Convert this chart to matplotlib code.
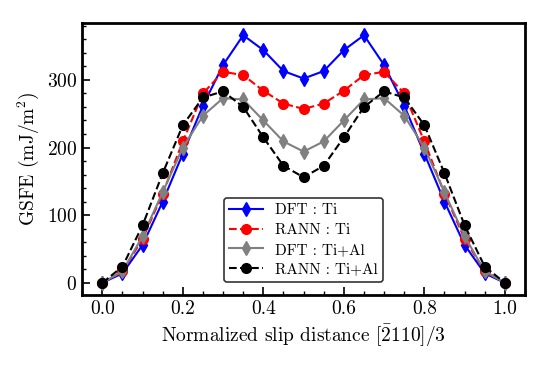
import numpy as np
import matplotlib
matplotlib.use("Agg")
import matplotlib.pyplot as plt
from matplotlib.ticker import MultipleLocator

plt.rcParams['font.family'] = 'cmr10'
plt.rcParams['mathtext.fontset'] = 'cm'
plt.rcParams['axes.unicode_minus'] = False
plt.rcParams['axes.formatter.use_mathtext'] = True

x = np.round(np.arange(0, 1.0001, 0.05), 2)

# half curves (0 -> 0.5), mirrored for the rest
dft_ti_half = [0, 14, 56, 120, 191, 262, 322, 366, 344, 313, 302]
rann_ti_half = [0, 17, 65, 132, 209, 280, 312, 307, 284, 265, 257]
dft_tial_half = [0, 17, 69, 134, 200, 247, 273, 271, 240, 209, 194]
rann_tial_half = [0, 24, 85, 162, 233, 274, 283, 260, 215, 173, 156]

def full(h):
    return h + h[-2::-1]

dft_ti = full(dft_ti_half)
rann_ti = full(rann_ti_half)
dft_tial = full(dft_tial_half)
rann_tial = full(rann_tial_half)

fig = plt.figure(figsize=(5.48, 3.66), dpi=100)
ax = fig.add_axes([0.150, 0.194, 0.808, 0.743])

ax.plot(x, dft_ti, '-', color='blue', marker='d', ms=7.5, lw=1.5, label='DFT : Ti')
ax.plot(x, rann_ti, '--', color='red', marker='o', ms=7, lw=1.5, label='RANN : Ti')
ax.plot(x, dft_tial, '-', color='gray', marker='d', ms=7.5, lw=1.5, label='DFT : Ti+Al')
ax.plot(x, rann_tial, '--', color='black', marker='o', ms=7, lw=1.5, label='RANN : Ti+Al')

ax.set_xlim(-0.05, 1.05)
ax.set_ylim(-18, 384)
ax.xaxis.set_major_locator(MultipleLocator(0.2))
ax.xaxis.set_minor_locator(MultipleLocator(0.05))
ax.yaxis.set_major_locator(MultipleLocator(100))
ax.yaxis.set_minor_locator(MultipleLocator(20))
ax.xaxis.set_major_formatter(matplotlib.ticker.FormatStrFormatter('%.1f'))
ax.tick_params(which='both', direction='in', top=False, right=False, labelsize=14)
ax.tick_params(which='major', length=6, width=1.2)
ax.tick_params(which='minor', length=3, width=1)
for s in ax.spines.values():
    s.set_linewidth(2)

ax.set_xlabel(r'Normalized slip distance [$\bar{2}$110]/3', fontsize=14)
ax.set_ylabel(r'GSFE (mJ/m$^2$)', fontsize=14)

leg = ax.legend(loc='lower center', bbox_to_anchor=(0.5, 0.02), fontsize=11,
                frameon=True, edgecolor='#333333', framealpha=1,
                handlelength=2.2, borderpad=0.35, labelspacing=0.4)
leg.get_frame().set_linewidth(1.2)

fig.savefig('out.png', dpi=100)
